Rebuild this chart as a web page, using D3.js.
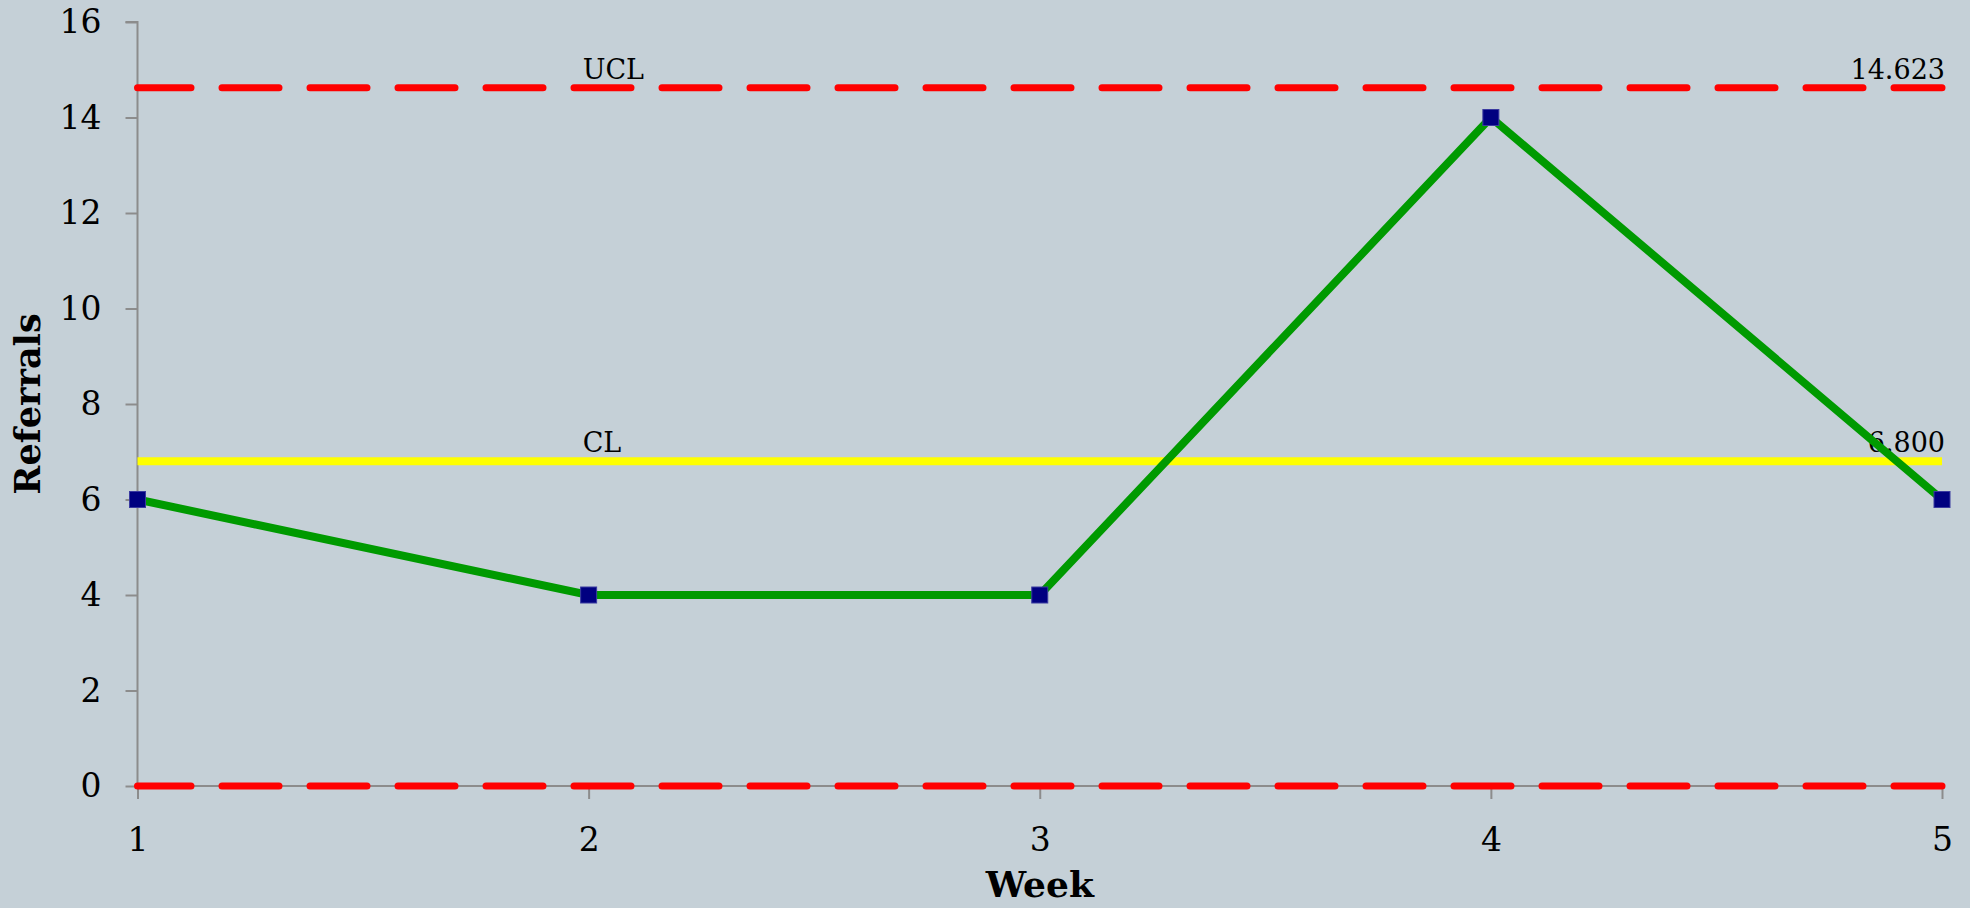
<!DOCTYPE html>
<html>
<head>
<meta charset="utf-8">
<script src="https://cdn.jsdelivr.net/npm/d3@7"></script>
<style>
  body { margin: 0; background: #c5d0d7; }
  svg { display: block; font-family: "DejaVu Serif", serif; }
</style>
</head>
<body>
<div id="chart"></div>
<script>
// data
var weeks = [1, 2, 3, 4, 5];
var referrals = [6, 4, 4, 14, 6];
var yTicks = [0, 2, 4, 6, 8, 10, 12, 14, 16];
var limitNames = ["UCL", "CL", "LCL"];
var limitValues = [14.623, 6.8, 0];

var width = 1970, height = 908;
var margin = {top: 22, right: 28, bottom: 122, left: 137.5};

var svg = d3.select("#chart")
  .append("svg")
    .attr("width", width)
    .attr("height", height);

svg.append("rect")
  .attr("width", width).attr("height", height)
  .attr("fill", "#c5d0d7");

var x = d3.scaleLinear()
  .domain([1, 5])
  .range([margin.left, width - margin.right]);

var y = d3.scaleLinear()
  .domain([0, 16])
  .range([height - margin.bottom, margin.top]);

// y axis
var yAxis = svg.append("g")
  .attr("transform", "translate(" + margin.left + ",0)")
  .call(d3.axisLeft(y).tickValues(yTicks).tickSize(12).tickPadding(24).tickFormat(d3.format("d")));
yAxis.selectAll("line, path").attr("stroke", "#8c8c8c").attr("stroke-width", 2);
yAxis.select(".domain").attr("d", "M-12," + y(16) + "H0V" + y(0));
yAxis.selectAll("text")
  .attr("fill", "#000")
  .style("font-size", "33px")
  .style("font-family", "DejaVu Serif, serif");

// x axis
var xAxis = svg.append("g")
  .attr("transform", "translate(0," + y(0) + ")")
  .call(d3.axisBottom(x).tickValues(weeks).tickSize(13).tickPadding(29).tickFormat(d3.format("d")));
xAxis.selectAll("line, path").attr("stroke", "#8c8c8c").attr("stroke-width", 2);
xAxis.select(".domain").attr("d", "M" + x(1) + ",0H" + x(5));
xAxis.selectAll("text")
  .attr("fill", "#000")
  .style("font-size", "33px")
  .style("font-family", "DejaVu Serif, serif");

// axis titles
svg.append("text")
  .attr("x", (x(1) + x(5)) / 2)
  .attr("y", 897)
  .attr("text-anchor", "middle")
  .style("font-size", "36px")
  .style("font-weight", "bold")
  .text("Week");

svg.append("text")
  .attr("transform", "translate(40," + ((y(0) + y(16)) / 2) + ") rotate(-90)")
  .attr("text-anchor", "middle")
  .style("font-size", "35px")
  .style("font-weight", "bold")
  .text("Referrals");

// control limits
var limits = limitNames.map(function(n, i) { return {name: n, value: limitValues[i]}; });

svg.selectAll(".limit")
  .data(limits)
  .enter()
  .append("line")
    .attr("class", "limit")
    .attr("x1", x(1))
    .attr("x2", x(5))
    .attr("y1", function(d) { return y(d.value); })
    .attr("y2", function(d) { return y(d.value); })
    .attr("stroke", function(d) { return d.name == "CL" ? "#ffff00" : "#ff0000"; })
    .attr("stroke-width", function(d) { return d.name == "CL" ? 8 : 7; })
    .attr("stroke-dasharray", function(d) { return d.name == "CL" ? null : "57,31"; })
    .attr("stroke-dashoffset", function(d) { return d.name == "CL" ? 0 : 3.5; })
    .attr("stroke-linecap", function(d) { return d.name == "CL" ? "butt" : "round"; });

// limit labels (UCL / CL only)
var labelled = limits.filter(function(d) { return d.name != "LCL"; });

svg.selectAll(".limitName")
  .data(labelled)
  .enter()
  .append("text")
    .attr("class", "limitName")
    .attr("x", x(2) - 6)
    .attr("y", function(d) { return y(d.value) - 9; })
    .style("font-size", "27px")
    .text(function(d) { return d.name; });

svg.selectAll(".limitValue")
  .data(labelled)
  .enter()
  .append("text")
    .attr("class", "limitValue")
    .attr("x", x(5) + 3)
    .attr("y", function(d) { return y(d.value) - 9; })
    .attr("text-anchor", "end")
    .style("font-size", "27px")
    .text(function(d) { return d3.format(".3f")(d.value); });

// the series
var pts = weeks.map(function(w, i) { return {week: w, val: referrals[i]}; });

svg.append("path")
  .datum(pts)
  .attr("fill", "none")
  .attr("stroke", "#009a00")
  .attr("stroke-width", 8)
  .attr("stroke-linejoin", "miter")
  .attr("d", d3.line()
    .x(function(d) { return x(d.week); })
    .y(function(d) { return y(d.val); }));

var s = 16;
svg.selectAll(".marker")
  .data(pts)
  .enter()
  .append("rect")
    .attr("class", "marker")
    .attr("x", function(d) { return x(d.week) - s / 2; })
    .attr("y", function(d) { return y(d.val) - s / 2; })
    .attr("width", s)
    .attr("height", s)
    .attr("fill", "#000080")
    .attr("stroke", "#3a3aa0")
    .attr("stroke-width", 1);
</script>
</body>
</html>
